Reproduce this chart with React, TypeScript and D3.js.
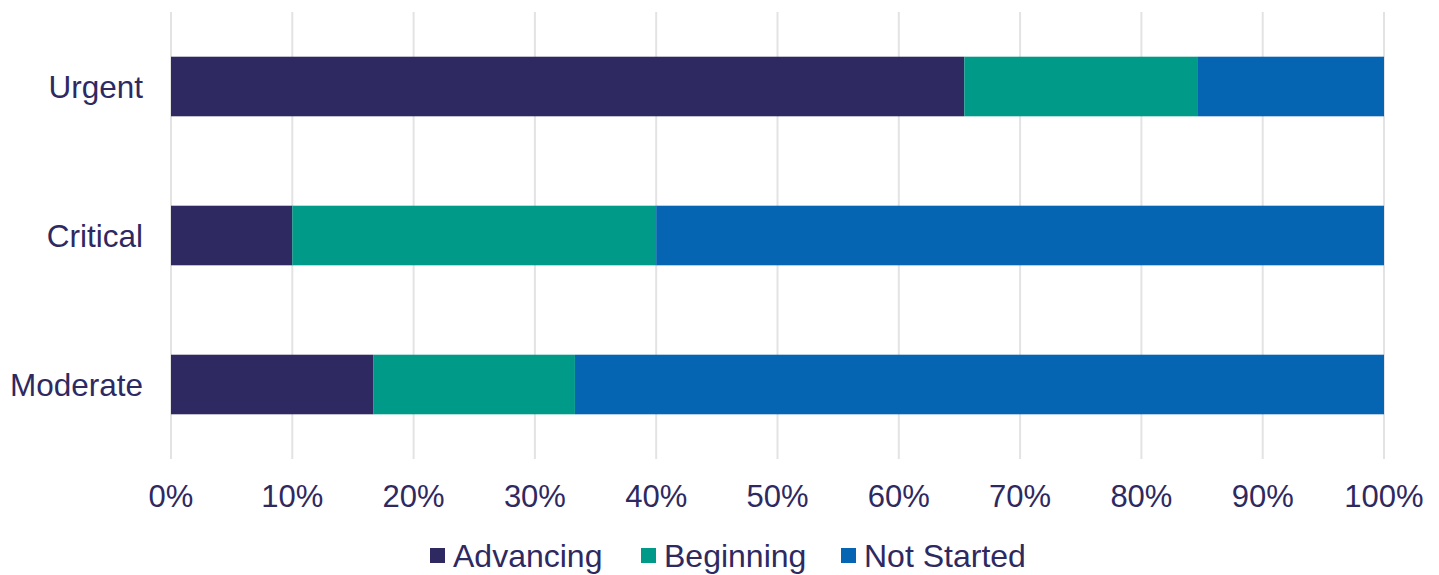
import React from "react";
import * as d3 from "d3";

const categories = ["Urgent", "Critical", "Moderate"];
const seriesNames = ["Advancing", "Beginning", "Not Started"];
const advancing = [0.654, 0.1, 0.167];
const beginning = [0.192, 0.3, 0.166];
const notStarted = [0.154, 0.6, 0.667];
const tickValues = [0, 0.1, 0.2, 0.3, 0.4, 0.5, 0.6, 0.7, 0.8, 0.9, 1];
const colors = ["#2E2961", "#009B88", "#0565B2"];

const W = 1439;
const H = 575;
const textColor = "#2E2961";
const font = "'Liberation Sans', Arial, sans-serif";

export default function App() {
  const x = d3.scaleLinear().domain([0, 1]).range([171, 1384]);
  const y = d3.scaleBand().domain(categories).range([12, 459]).paddingInner(0.6).paddingOuter(0.3);

  const rows = categories.map((c, i) => ({
    cat: c,
    Advancing: advancing[i],
    Beginning: beginning[i],
    "Not Started": notStarted[i],
  }));
  const stacked = d3.stack<any>().keys(seriesNames)(rows);

  const legendX = [430, 641, 841];

  return (
    <svg
      width={W}
      height={H}
      style={{ position: "absolute", left: 0, top: 0, background: "#fff" }}
      fontFamily={font}
    >
      {tickValues.map((t) => (
        <line
          key={t}
          x1={x(t)}
          x2={x(t)}
          y1={12}
          y2={459}
          stroke="#E3E3E3"
          strokeWidth={2}
        />
      ))}
      {stacked.map((s, si) => (
        <g key={s.key} fill={colors[si]}>
          {s.map((d, i) => (
            <rect
              key={i}
              x={x(d[0])}
              y={y(categories[i])}
              width={x(d[1]) - x(d[0])}
              height={y.bandwidth()}
            />
          ))}
        </g>
      ))}
      {categories.map((c) => (
        <text
          key={c}
          x={143}
          y={(y(c) as number) + y.bandwidth() / 2}
          dy="0.35em"
          textAnchor="end"
          fontSize={31.5}
          fill={textColor}
        >
          {c}
        </text>
      ))}
      {tickValues.map((t) => (
        <text
          key={t}
          x={x(t)}
          y={507}
          textAnchor="middle"
          fontSize={31}
          fill={textColor}
        >
          {d3.format(".0%")(t)}
        </text>
      ))}
      {seriesNames.map((n, i) => (
        <g key={n}>
          <rect x={legendX[i]} y={548} width={15} height={15} fill={colors[i]} />
          <text x={legendX[i] + 23} y={567} fontSize={32} fill={textColor}>
            {n}
          </text>
        </g>
      ))}
    </svg>
  );
}
